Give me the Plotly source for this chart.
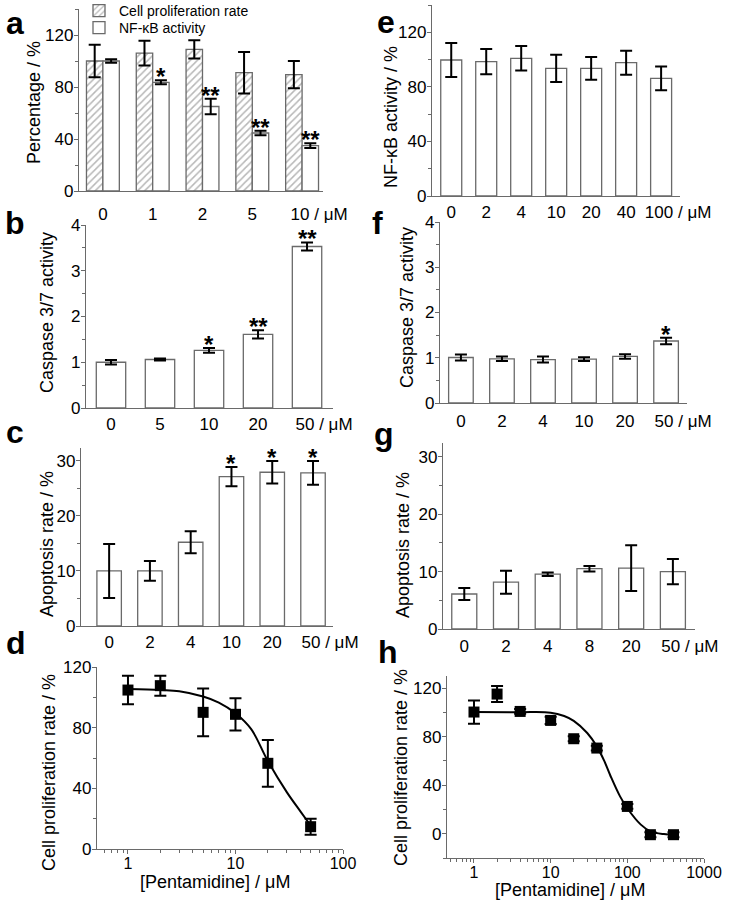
import plotly.graph_objects as go

W, H = 731, 907
FONT = "Liberation Sans, Arial, sans-serif"
AX = "#6a6a6a"

# ---------------- data ----------------
a_cats = ["0", "1", "2", "5", "10"]
a_prolif = [100, 106, 109, 91, 89.5]
a_prolif_err = [12.5, 9.5, 7, 16, 10.5]
a_nfkb = [100, 83.6, 65, 44.6, 34.9]
a_nfkb_err = [1.3, 1.5, 6, 1.7, 1.9]
a_stars = ["", "*", "**", "**", "**"]

b_cats = ["0", "5", "10", "20", "50"]
b_vals = [1.0, 1.06, 1.26, 1.61, 3.53]
b_err = [0.05, 0.02, 0.05, 0.09, 0.09]
b_stars = ["", "", "*", "**", "**"]

c_cats = ["0", "2", "4", "10", "20", "50"]
c_vals = [10.0, 10.0, 15.2, 27.1, 27.9, 27.8]
c_err = [4.9, 1.8, 2.0, 1.75, 2.05, 2.15]
c_stars = ["", "", "", "*", "*", "*"]

d_conc = [1, 2, 5, 10, 20, 50]
d_vals = [104.8, 107.7, 90.1, 88.8, 56.5, 14.7]
d_err = [9.4, 6.6, 15.7, 10.6, 15.4, 5.3]
d_fit_x = [1, 2, 3, 5, 7, 10, 14, 20, 30, 40, 50]
d_fit_y = [105.5, 104.8, 104.0, 100.5, 96.5, 89.5, 79.0, 58.0, 37.5, 25.0, 15.5]

e_cats = ["0", "2", "4", "10", "20", "40", "100"]
e_vals = [99.7, 98.5, 100.9, 93.6, 93.6, 97.7, 86.2]
e_err = [12.4, 9.2, 9.0, 10.0, 8.3, 8.8, 8.7]

f_cats = ["0", "2", "4", "10", "20", "50"]
f_vals = [1.005, 0.976, 0.96, 0.97, 1.03, 1.37]
f_err = [0.065, 0.05, 0.066, 0.04, 0.05, 0.07]
f_stars = ["", "", "", "", "", "*"]

g_cats = ["0", "2", "4", "8", "20", "50"]
g_vals = [6.1, 8.15, 9.55, 10.5, 10.6, 10.0]
g_err = [1.05, 2.0, 0.3, 0.47, 4.0, 2.2]

h_conc = [1, 2, 4, 10, 20, 40, 100, 200, 400]
h_vals = [100.3, 115.1, 100.8, 93.4, 78.3, 70.6, 22.5, -0.8, -0.8]
h_err = [9.6, 6.6, 2, 3, 2, 2, 2, 2, 2]
h_fit_x = [1, 4, 10, 15, 20, 30, 40, 50, 60, 80, 100, 150, 200, 300, 400]
h_fit_y = [100.3, 100.2, 99.8, 97.0, 93.0, 83.0, 72.0, 60.0, 48.0, 31.0, 21.0, 7.5, 2.0, -0.3, -0.8]

# ---------------- layout geometry (pixels) ----------------
# name: (x0, x1, ytop, ybottom, xrange, yrange)
panels = {
    "a": (79, 323, 9, 191, [-0.48, 4.42], [0, 140]),
    "b": (86, 333, 225, 408, [-0.51, 4.53], [0, 4]),
    "c": (81, 333, 448, 626, [-0.69, 5.49], [0, 32.3]),
    "d": (97, 343, 667, 849, [-0.288, 2.0], [0, 120]),
    "e": (432, 680, 5, 196, [-0.55, 6.54], [0, 140]),
    "f": (440, 687, 222, 403, [-0.51, 5.51], [0, 4]),
    "g": (443, 695, 443, 629, [-0.51, 5.53], [0, 32.4]),
    "h": (447, 704, 676, 858, [-0.352, 3.0], [-20, 130]),
}
order = ["a", "b", "c", "d", "e", "f", "g", "h"]
idx = {k: i + 1 for i, k in enumerate(order)}

def px_x(v):
    return v / W

def px_y(v):
    return 1 - v / H

fig = go.Figure()

bar_line = dict(color=AX, width=1.3)
err_style = dict(type="data", color="black", thickness=2, width=6, visible=True)

def axref(k):
    n = idx[k]
    return ("x" if n == 1 else f"x{n}"), ("y" if n == 1 else f"y{n}")

# panel a grouped bars
xa, ya = axref("a")
fig.add_trace(go.Bar(
    x=list(range(len(a_cats))), y=a_prolif, width=0.33, offset=-0.33,
    name="Cell proliferation rate", legend="legend",
    marker=dict(color="white", line=bar_line,
                pattern=dict(shape="/", fgcolor="#707070", bgcolor="white", size=5, solidity=0.3)),
    error_y=dict(array=a_prolif_err, **err_style), xaxis=xa, yaxis=ya, showlegend=True))
fig.add_trace(go.Bar(
    x=list(range(len(a_cats))), y=a_nfkb, width=0.33, offset=0.0,
    name="NF-\u03baB activity", legend="legend2",
    marker=dict(color="white", line=bar_line),
    error_y=dict(array=a_nfkb_err, **err_style), xaxis=xa, yaxis=ya, showlegend=True))

def simple_bars(k, vals, errs):
    xr, yr = axref(k)
    fig.add_trace(go.Bar(
        x=list(range(len(vals))), y=vals, width=0.6,
        marker=dict(color="white", line=bar_line),
        error_y=dict(array=errs, **err_style), xaxis=xr, yaxis=yr, showlegend=False))

simple_bars("b", b_vals, b_err)
simple_bars("c", c_vals, c_err)
simple_bars("e", e_vals, e_err)
simple_bars("f", f_vals, f_err)
simple_bars("g", g_vals, g_err)

def dose(k, conc, vals, errs, fx, fy, msize):
    xr, yr = axref(k)
    fig.add_trace(go.Scatter(x=fx, y=fy, mode="lines", line=dict(color="black", width=2, shape="spline", smoothing=1.0),
                             xaxis=xr, yaxis=yr, showlegend=False))
    fig.add_trace(go.Scatter(x=conc, y=vals, mode="markers",
                             marker=dict(symbol="square", size=msize, color="black"),
                             error_y=dict(array=errs, **err_style),
                             xaxis=xr, yaxis=yr, showlegend=False))

dose("d", d_conc, d_vals, d_err, d_fit_x, d_fit_y, 11)
dose("h", h_conc, h_vals, h_err, h_fit_x, h_fit_y, 11)

cats = {"a": a_cats, "b": b_cats, "c": c_cats, "e": e_cats, "f": f_cats, "g": g_cats}
standoff = {"a": 7, "b": 0, "c": 0, "e": 0, "f": 2, "g": 1}
ydt = {"a": 40, "b": 1, "c": 10, "d": 40, "e": 40, "f": 1, "g": 10, "h": 40}

leg_common = dict(xanchor="left", yanchor="middle", font=dict(size=14, family=FONT),
                  bgcolor="rgba(0,0,0,0)", tracegroupgap=0, itemwidth=30)
layout = dict(
    width=W, height=H, margin=dict(l=0, r=0, t=0, b=0, pad=0, autoexpand=False),
    paper_bgcolor="white", plot_bgcolor="white",
    font=dict(family=FONT, color="black", size=16),
    barmode="overlay",
    legend=dict(x=px_x(79), y=px_y(11), **leg_common),
    legend2=dict(x=px_x(79), y=px_y(28), **leg_common),
)

for k in order:
    x0, x1, yt, yb, xrng, yrng = panels[k]
    n = idx[k]
    xname = "xaxis" if n == 1 else f"xaxis{n}"
    yname = "yaxis" if n == 1 else f"yaxis{n}"
    yref_anchor = "y" if n == 1 else f"y{n}"
    xref_anchor = "x" if n == 1 else f"x{n}"
    xa_d = dict(domain=[px_x(x0), px_x(x1)], anchor=yref_anchor, range=xrng,
                showline=True, linecolor=AX, linewidth=1.3, showgrid=False, zeroline=False,
                fixedrange=True, automargin=False)
    if k in cats:
        c = cats[k]
        ppu = (x1 - x0) / (xrng[1] - xrng[0])
        shift = 17 / ppu
        tv = list(range(len(c)))
        tv[-1] = tv[-1] + shift
        tt = list(c)
        tt[-1] = tt[-1] + " / \u03bcM"
        xa_d.update(tickmode="array", tickvals=tv, ticktext=tt, ticks="",
                    tickfont=dict(size=17), ticklabelstandoff=standoff[k])
    else:
        xa_d.update(type="log", tickmode="array", tickvals=[1, 10, 100, 1000],
                    ticktext=["1", "10", "100", "1000"], ticks="outside", ticklen=4,
                    tickcolor=AX, tickfont=dict(size=16), ticklabelstandoff=-4,
                    minor=dict(ticks="outside", ticklen=2.5, tickcolor=AX,
                               tickvals=[m * 10 ** p for p in range(-1, 3) for m in range(2, 10)]))
    ya_d = dict(domain=[px_y(yb), px_y(yt)], anchor=xref_anchor, range=yrng,
                showline=True, linecolor=AX, linewidth=1.3, showgrid=False, zeroline=False,
                ticks="outside", ticklen=4, tickcolor=AX, tick0=0, dtick=ydt[k],
                tickfont=dict(size=17), ticklabelstandoff=-3, fixedrange=True, automargin=False,
                minor=dict(ticks="outside", ticklen=2.5, tickcolor=AX, dtick=ydt[k] / 2))
    layout[xname] = xa_d
    layout[yname] = ya_d

fig.update_layout(**layout)

ann = []

def star_ann(k, stars, vals, errs, xoff=0.0):
    xr, yr = axref(k)
    for i, s in enumerate(stars):
        if s:
            ann.append(dict(x=i + xoff, y=vals[i] + errs[i], xref=xr, yref=yr, text="<b>" + s + "</b>",
                            showarrow=False, yanchor="bottom", yshift=-12,
                            font=dict(size=24, family=FONT, color="black")))

star_ann("a", a_stars, a_nfkb, a_nfkb_err, 0.165)
star_ann("b", b_stars, b_vals, b_err)
star_ann("c", c_stars, c_vals, c_err)
star_ann("f", f_stars, f_vals, f_err)

# axis titles
ytitles = [
    ("Percentage / %", 34, 103),
    ("Caspase 3/7 activity", 47, 313),
    ("Apoptosis rate / %", 47, 544),
    ("Cell proliferation rate / %", 49, 773),
    ("NF-\u03baB activity / %", 391, 117),
    ("Caspase 3/7 activity", 407, 307),
    ("Apoptosis rate / %", 403, 545),
    ("Cell proliferation rate / %", 401, 768),
]
for t, x, y in ytitles:
    ann.append(dict(x=px_x(x), y=px_y(y), xref="paper", yref="paper", text=t, textangle=-90,
                    showarrow=False, xanchor="center", yanchor="middle",
                    font=dict(size=18, family=FONT)))
for t, x, y in [("[Pentamidine] / \u03bcM", 215, 882), ("[Pentamidine] / \u03bcM", 570, 890)]:
    ann.append(dict(x=px_x(x), y=px_y(y), xref="paper", yref="paper", text=t,
                    showarrow=False, xanchor="center", yanchor="middle",
                    font=dict(size=18, family=FONT)))

# panel letters
letters = [("a", 15, 23), ("b", 15, 223), ("c", 15, 432), ("d", 16, 643),
           ("e", 386, 22), ("f", 377, 223), ("g", 384, 434), ("h", 388, 652)]
for t, x, y in letters:
    ann.append(dict(x=px_x(x), y=px_y(y), xref="paper", yref="paper", text="<b>" + t + "</b>",
                    showarrow=False, xanchor="center", yanchor="middle",
                    font=dict(size=32, family=FONT)))

fig.update_layout(annotations=ann)
fig.write_html("out.html", config={"displayModeBar": False},
               post_script="document.body.style.margin='0';document.body.style.padding='0';")
